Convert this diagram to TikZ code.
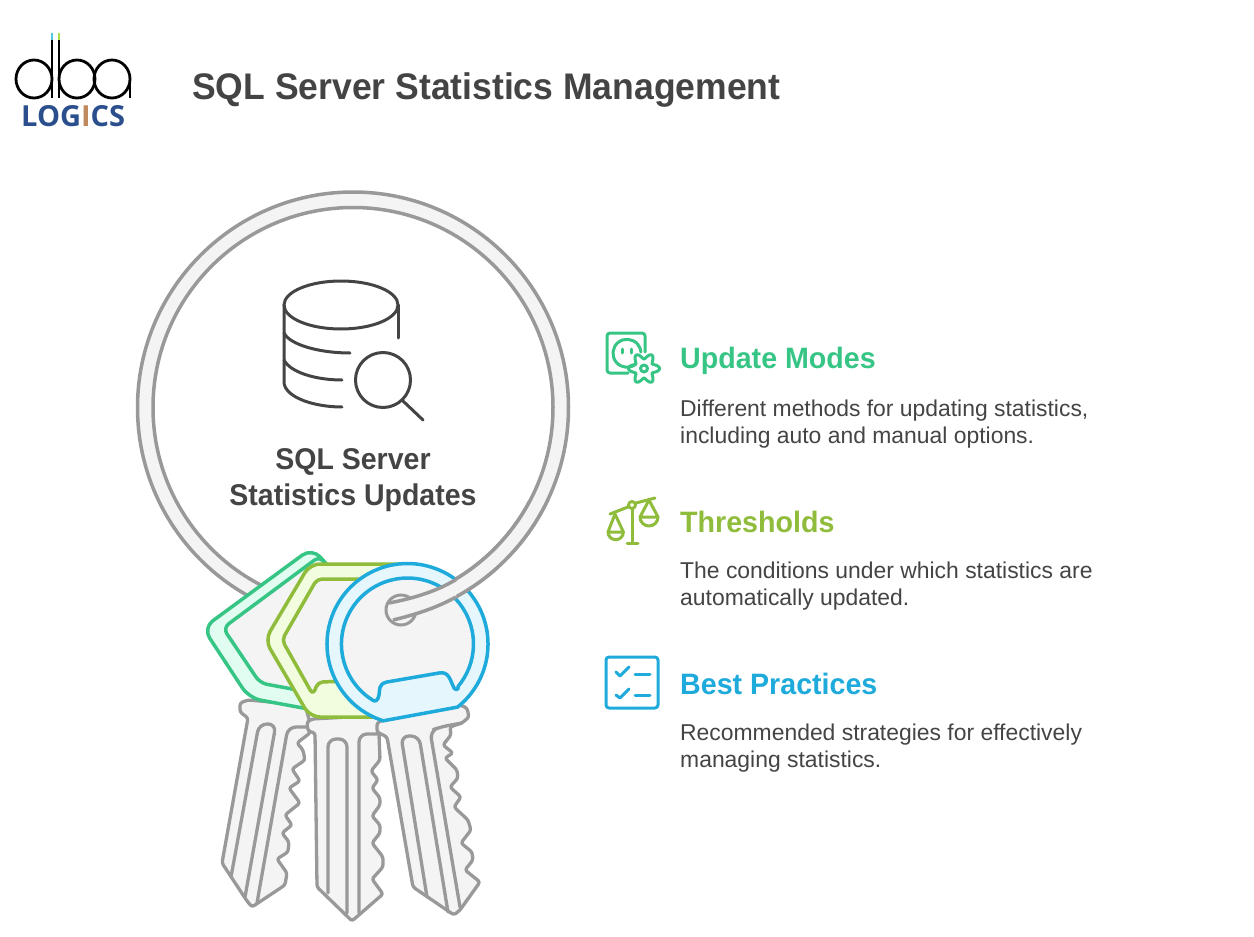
\documentclass[tikz,border=0pt]{standalone}
\usepackage{fontspec}
\setmainfont{Liberation Sans}
\newfontfamily\logofont{Open Sans}
\definecolor{txt}{HTML}{444444}
\definecolor{keyline}{HTML}{999999}
\definecolor{keyfill}{HTML}{F4F4F4}
\definecolor{gr}{HTML}{36C585}
\definecolor{grl}{HTML}{E1FDF1}
\definecolor{lm}{HTML}{90BC3C}
\definecolor{lml}{HTML}{F2FDE0}
\definecolor{bl}{HTML}{1EAADB}
\definecolor{bll}{HTML}{E5F6FD}
\definecolor{logob}{HTML}{2B4F8C}
\definecolor{logoi}{HTML}{C08A5E}
\definecolor{logoc}{HTML}{4CC9E0}
\definecolor{logol}{HTML}{A8E04A}
\tikzset{
 keyshape/.style={draw=keyline,fill=keyfill,line width=3.3pt,line join=round,rounded corners=2.5pt},
 keygroove/.style={draw=keyline,line width=3.3pt,line cap=round,rounded corners=8pt},
 ico/.style={line width=3pt,line cap=round,line join=round},
 dbline/.style={draw=txt,line width=3pt,line cap=round},
 head/.style={anchor=west,inner sep=0pt,font=\fontsize{29.5}{34}\bfseries\addfontfeature{FakeStretch=0.97}},
 body/.style={anchor=north west,inner sep=0pt,align=left,text=txt,font=\fontsize{22.9}{27.5}\selectfont},
 ringann/.style={fill=keyfill,draw=keyline,line width=3.5pt,even odd rule},
}
\begin{document}
\begin{tikzpicture}[x=1pt,y=-1pt]
\useasboundingbox (0,0) rectangle (1254,937);
% ring
\path[ringann] (353,407.5) circle (215.5) (353,407.5) circle (200);
% key blades
\path[keyshape] (248,700) -- (240,703) -- (240,712) -- (248,718) -- (222,863) -- (247,901) -- (252,907) -- (258,903) -- (285,885) -- (287,873) -- (277,859) -- (288,852) -- (289,842) -- (282,833) -- (292,825) -- (285,815) -- (300,803) -- (289,788) -- (300,781) -- (292,769) -- (305,760) -- (303,750) -- (297,743) -- (310,733) -- (311,726) -- (305,705) -- cycle;
\draw[keygroove] (231,877) -- (259,724) -- (276,724) -- (245,897);
\draw[keygroove] (257,903) -- (288,727) -- (308,727);
\path[keyshape] (312,719) -- (307,722) -- (308,731) -- (315,733) -- (317,887) -- (352,921) -- (383,894) -- (372,879) -- (383,867) -- (383,857) -- (372,843) -- (380,833) -- (380,825) -- (372,816) -- (380,805) -- (380,798) -- (372,788) -- (378,780) -- (371,771) -- (380,760) -- (379,735) -- (385,715) -- cycle;
\draw[keygroove] (328,893) -- (328,739) -- (347,739) -- (347,913);
\draw[keygroove] (359,913) -- (359,734) -- (379,734);
\path[keyshape] (383,720) -- (377,723) -- (377,732) -- (387,737) -- (413,887) -- (454,915) -- (460,910) -- (480,882) -- (465,870) -- (473,860) -- (472,852) -- (461,843) -- (471,830) -- (468,820) -- (454,807) -- (461,797) -- (450,787) -- (458,778) -- (457,770) -- (445,758) -- (453,753) -- (443,745) -- (451,735) -- (450,727) -- (462,723) -- (469,717) -- (467,708) -- (460,705) -- cycle;
\draw[keygroove] (427,897) -- (401,736) -- (419,736) -- (448,912);
\draw[keygroove] (460,907) -- (430,731) -- (440,727) -- (462,723);
% green head
\path[draw=gr,fill=grl,line width=3.5pt,line join=round,rounded corners=12pt] (312,548) -- (203,628) -- (249,698) -- (330,713) -- (350,590) -- cycle;
\path[draw=gr,fill=keyfill,line width=3.5pt,line join=round,rounded corners=7pt] (320,556) -- (223,628) -- (260,683) -- (335,697) -- (350,600) -- cycle;
% lime head
\path[draw=lm,fill=lml,line width=3.5pt,line join=round,rounded corners=10pt] (310,564) -- (265,640) -- (310,717) -- (392,717) -- (420,640) -- (420,564) -- cycle;
\path[draw=lm,fill=keyfill,line width=3.5pt,line join=round,rounded corners=5pt] (317,579) -- (282,640) -- (313,695) -- (318,682) -- (395,680) -- (420,579) -- cycle;
% blue head
\path[draw=bl,fill=bll,line width=3.5pt,line join=round] (383.3,720.8) arc[start angle=107.5,end angle=411.6,radius=80.5] -- cycle;
\path[draw=bl,fill=keyfill,line width=3.5pt,line join=round] (372.5,700) arc[start angle=122,end angle=400,radius=66]
  .. controls (459,689) and (456,691) .. (454,688)
  .. controls (450,680) and (449,671) .. (439,673) -- (387,682)
  .. controls (378,684) and (380,690) .. (379,695)
  .. controls (378,701) and (375,702) .. (372.5,700) -- cycle;
% hole
\path[draw=keyline,fill=keyfill,line width=3pt] (401,610) circle (15);
% ring tail over key
\begin{scope}
\clip (455,500) rectangle (600,650);
\path[ringann] (353,407.5) circle (215.5) (353,407.5) circle (200);
\end{scope}
\path[fill=keyfill] (389,603) .. controls (415,598) and (437,591) .. (456,579.5) -- (456,597) .. controls (438,607) and (418,614) .. (393,620) -- cycle;
\draw[keyline,line width=3.5pt] (389,603) .. controls (415,598) and (437,591) .. (456,579.5);
\draw[keyline,line width=3.5pt] (393,620) .. controls (418,614) and (438,607) .. (456,597);
% database icon
\draw[dbline] (341,305) ellipse [x radius=57,y radius=24];
\draw[dbline] (398,305) -- (398,338);
\draw[dbline] (284,305) -- (284,383) .. controls (286,398) and (315,407) .. (342,407);
\draw[dbline] (284,333) .. controls (290,345) and (320,353) .. (350,353);
\draw[dbline] (284,360) .. controls (290,372) and (315,380) .. (342,380);
\draw[dbline] (383,380) circle (27.5);
\draw[dbline] (403,401) -- (423,420);
\node[inner sep=0pt,text=txt,font=\fontsize{30}{36}\bfseries\addfontfeature{FakeStretch=0.95},align=center] (center) at (353,480) {SQL Server\\Statistics Updates};
% logo
\draw[black,line width=2.8pt] (34,79) ellipse [x radius=18,y radius=19];
\draw[black,line width=2.8pt] (77,79) ellipse [x radius=18,y radius=19];
\draw[black,line width=2.8pt] (112,79) ellipse [x radius=18,y radius=19];
\draw[black,line width=2.4pt] (52,40) -- (52,98);
\draw[black,line width=2.4pt] (59,40) -- (59,98);
\draw[black,line width=2.4pt] (130,79) -- (130,98);
\draw[logoc,line width=2.4pt] (52,33) -- (52,40);
\draw[logol,line width=2.4pt] (59,33) -- (59,40);
\node[inner sep=0pt,text=logob,font=\logofont\fontsize{29}{32}\bfseries,anchor=west] (logotext) at (21,116) {LOG{\color{logoi}I}CS};
% title
\node[inner sep=0pt,anchor=west,text=txt,font=\fontsize{37}{42}\bfseries\addfontfeature{FakeStretch=0.96}] (title) at (192,90) {SQL Server Statistics Management};
% icon 1
\draw[gr,ico,rounded corners=3pt] (628,373) -- (607,373) -- (607,333) -- (645,333) -- (645,352);
\draw[gr,ico] (636,364) arc[start angle=50,end angle=355,radius=14];
\draw[gr,ico] (622,349) -- (622,353) (631,349) -- (631,353);
\draw[gr,ico] plot[domain=0:360,samples=121,smooth] ({644+(12.5+3*cos(6*\x))*cos(\x)},{368.5+(12.5+3*cos(6*\x))*sin(\x)});
\draw[gr,ico] (644,368.5) circle (3.5);
% icon 2
\draw[lm,ico] (610,514) -- (628,507) (636,503) -- (655,498);
\draw[lm,ico] (632,505) circle (3.5);
\draw[lm,ico] (632,509) -- (632,543) (627,543) -- (638,543);
\draw[lm,ico,line join=round] (615,514) -- (608,532) arc[start angle=180,end angle=0,radius=7.7] -- cycle (608,532) -- (623,532);
\draw[lm,ico,line join=round] (649,500) -- (640,517) arc[start angle=180,end angle=0,radius=9] -- cycle (640,517) -- (658,517);
% icon 3
\draw[bl,ico,rounded corners=3pt] (606,657) rectangle (658,708);
\draw[bl,ico] (616,672) -- (620,676) -- (629,667) (616,695) -- (620,698) -- (629,689);
\draw[bl,ico] (635,674) -- (650,674) (635,695) -- (650,695);
% side text
\node[head,text=gr] (h1) at (680,361) {Update Modes};
\node[body] (b1) at (680,399.5) {Different methods for updating statistics,\\including auto and manual options.};
\node[head,text=lm] (h2) at (680,521.5) {Thresholds};
\node[body] (b2) at (680,561.5) {The conditions under which statistics are\\automatically updated.};
\node[head,text=bl] (h3) at (680,683.5) {Best Practices};
\node[body] (b3) at (680,723.5) {Recommended strategies for effectively\\managing statistics.};
\end{tikzpicture}
\end{document}
